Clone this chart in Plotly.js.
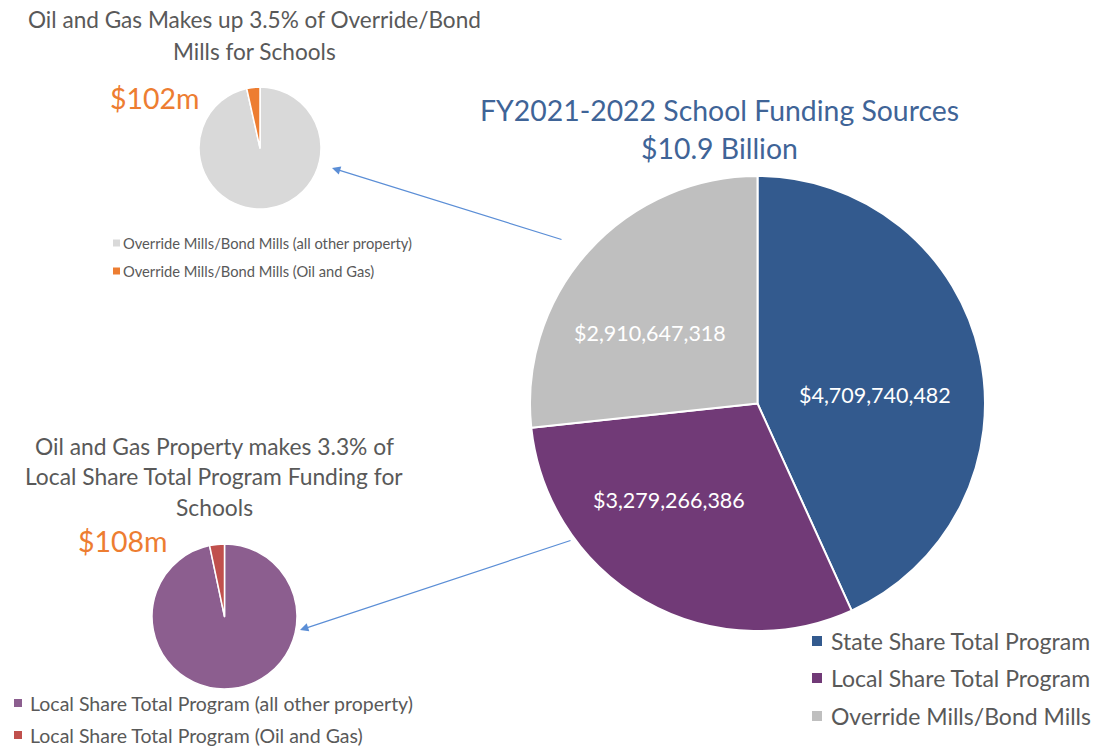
<!DOCTYPE html>
<html><head><meta charset="utf-8">
<script src="https://cdn.plot.ly/plotly-3.0.1.min.js"></script>
<style>body{margin:0;background:#fff}#c{width:1098px;height:749px}</style>
</head><body><div id="c"></div>
<script>
const mainLabels = ["State Share Total Program", "Local Share Total Program", "Override Mills/Bond Mills"];
const mainValues = [4709740482, 3279266386, 2910647318];
const mainColors = ["#335A8E", "#713A77", "#BFBFBF"];

const overrideLabels = ["Override Mills/Bond Mills (all other property)", "Override Mills/Bond Mills (Oil and Gas)"];
const overrideValues = [2808647318, 102000000];
const overrideColors = ["#D9D9D9", "#ED7D31"];

const localLabels = ["Local Share Total Program (all other property)", "Local Share Total Program (Oil and Gas)"];
const localValues = [3171266386, 108000000];
const localColors = ["#8C5E8F", "#C0504D"];

const W = 1098, H = 749;
const px = x => x / W, py = y => 1 - y / H;
const FONT = "Lato, 'Open Sans', sans-serif";

const traces = [
  {type: "pie", labels: mainLabels, values: mainValues, sort: false, direction: "clockwise", rotation: 0,
   marker: {colors: mainColors, line: {color: "#fff", width: 2}},
   textinfo: "none", hoverinfo: "label+value",
   domain: {x: [px(530), px(985)], y: [py(631), py(176)]}, showlegend: false},
  {type: "pie", labels: overrideLabels, values: overrideValues, sort: false, direction: "clockwise", rotation: 0,
   marker: {colors: overrideColors, line: {color: "#fff", width: 1.5}},
   textinfo: "none", hoverinfo: "label+value",
   domain: {x: [px(199), px(321)], y: [py(209), py(87)]}, showlegend: false},
  {type: "pie", labels: localLabels, values: localValues, sort: false, direction: "clockwise", rotation: 0,
   marker: {colors: localColors, line: {color: "#fff", width: 1.5}},
   textinfo: "none", hoverinfo: "label+value",
   domain: {x: [px(152), px(297)], y: [py(689), py(544)]}, showlegend: false}
];

const ann = [];
const shapes = [];
function txt(text, x, y, size, color, anchor) {
  ann.push({text, x: px(x), y: py(y), xref: "paper", yref: "paper", showarrow: false,
    xanchor: anchor || "center", yanchor: "middle", font: {size, color, family: FONT}});
}
// slice value labels (data label positions as in the reference)
const valuePos = [[875, 395], [669, 500], [650, 333]];
mainValues.forEach((v, i) => txt("$" + v.toLocaleString("en-US"), valuePos[i][0], valuePos[i][1], 21.5, "#ffffff"));

txt("FY2021-2022 School Funding Sources", 719, 110, 28.4, "#3F6497");
txt("$10.9 Billion", 719, 148, 28.4, "#3F6497");
txt("Oil and Gas Makes up 3.5% of Override/Bond", 254, 20, 22.6, "#595959");
txt("Mills for Schools", 254, 51, 22.6, "#595959");
txt("$102m", 155, 98, 28.5, "#ED7D31");
txt("Oil and Gas Property makes 3.3% of", 214, 446, 22.8, "#595959");
txt("Local Share Total Program Funding for", 214, 476, 22.8, "#595959");
txt("Schools", 214, 507, 22.8, "#595959");
txt("$108m", 123, 541, 28.5, "#ED7D31");

function legend(labels, colors, sqX, sqSize, textX, ys, size) {
  labels.forEach((l, i) => {
    shapes.push({type: "rect", xref: "paper", yref: "paper", x0: px(sqX), x1: px(sqX + sqSize),
      y0: py(ys[i] + sqSize / 2), y1: py(ys[i] - sqSize / 2), fillcolor: colors[i], line: {width: 0}});
    txt(l, textX, ys[i], size, "#595959", "left");
  });
}
legend(overrideLabels, overrideColors, 113, 7, 121, [243, 271], 14.7);
legend(localLabels, localColors, 14, 8, 28, [703, 735], 19.5);
legend(mainLabels, mainColors, 812, 10, 829, [641, 678, 716], 23);

// arrows
ann.push({x: px(332), y: py(168), xref: "paper", yref: "paper", ax: 563 - 332, ay: 240 - 168,
  showarrow: true, arrowhead: 2, arrowsize: 1.4, arrowwidth: 1.2, arrowcolor: "#5B8ED6", text: ""});
ann.push({x: px(300), y: py(630), xref: "paper", yref: "paper", ax: 572 - 300, ay: 540 - 630,
  showarrow: true, arrowhead: 2, arrowsize: 1.4, arrowwidth: 1.2, arrowcolor: "#5B8ED6", text: ""});

Plotly.newPlot("c", traces, {
  width: W, height: H, margin: {l: 0, r: 0, t: 0, b: 0},
  paper_bgcolor: "#fff", plot_bgcolor: "#fff", showlegend: false,
  annotations: ann, shapes: shapes, font: {family: FONT}
}, {displayModeBar: false});
</script></body></html>
